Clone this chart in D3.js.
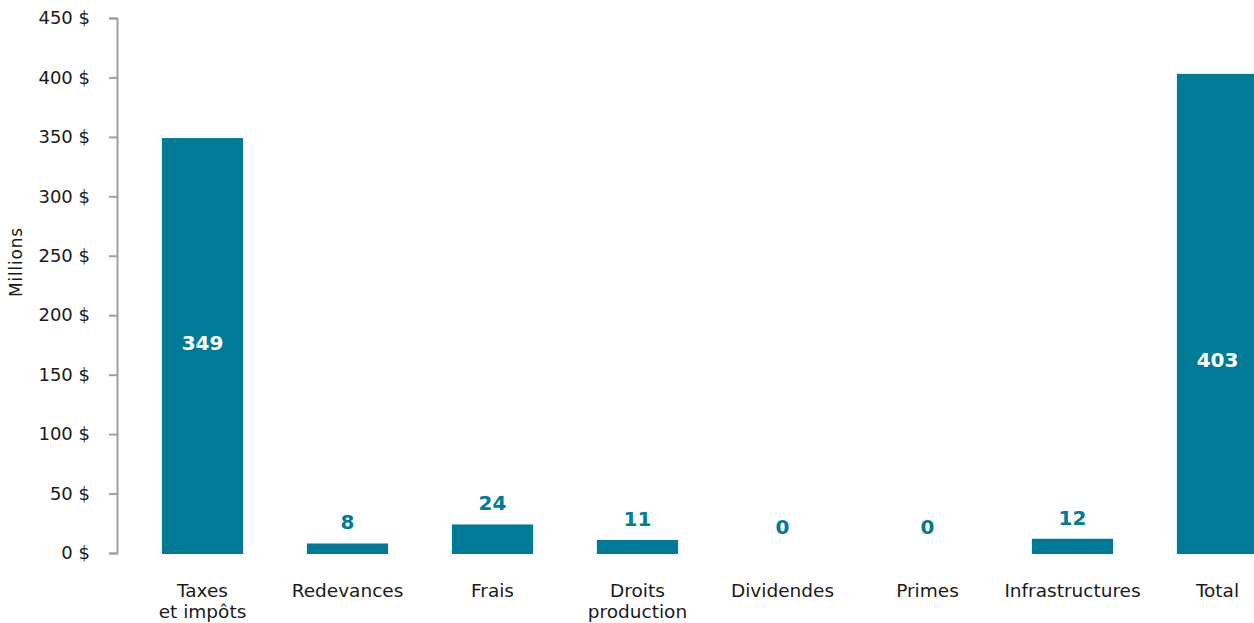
<!DOCTYPE html>
<html><head><meta charset="utf-8">
<script src="https://cdn.jsdelivr.net/npm/d3@7"></script>
<style>
body{margin:0;background:#fff;}
svg{display:block;font-family:"DejaVu Sans",sans-serif;}
</style></head>
<body><svg id="c" width="1254" height="623"></svg>
<script>
const categories = [["Taxes","et impôts"],["Redevances"],["Frais"],["Droits","production"],["Dividendes"],["Primes"],["Infrastructures"],["Total"]];
const values = [349, 8, 24, 11, 0, 0, 12, 403];
const yTicks = [0, 50, 100, 150, 200, 250, 300, 350, 400, 450];
const yTitle = "Millions";

const svg = d3.select("#c");
const teal = "#007a96";
const textCol = "#1a1a1a";
const keys = categories.map(c => c.join(" "));
const x = d3.scaleBand().domain(keys).range([130, 1290]).paddingInner(0.44).paddingOuter(0.22);
const y = d3.scaleLinear().domain([0, 450]).range([553, 18]);

const yAxis = svg.append("g").attr("transform", "translate(117,0)")
  .call(d3.axisLeft(y).tickValues(yTicks).tickSize(8).tickPadding(19).tickFormat(d => d + " $"));
yAxis.select(".domain").attr("stroke", "#a0a0a0").attr("stroke-width", 2);
yAxis.selectAll(".tick line").attr("stroke", "#a0a0a0").attr("stroke-width", 2);
yAxis.selectAll(".tick text").attr("font-size", 18).attr("fill", textCol).attr("font-family", "DejaVu Sans, sans-serif");

svg.append("text").attr("transform", "translate(22,262) rotate(-90)")
  .attr("text-anchor", "middle").attr("font-size", 17).attr("letter-spacing", 0.8).attr("fill", textCol)
  .attr("font-family", "DejaVu Sans, sans-serif").text(yTitle);

svg.append("g").selectAll("rect").data(values.map((v, i) => ({v, i})).filter(d => d.v > 0)).join("rect")
  .attr("x", d => x(keys[d.i]))
  .attr("width", x.bandwidth())
  .attr("y", d => y(d.v))
  .attr("height", d => y(0) - y(d.v) + 1)
  .attr("fill", teal);

const insideShift = {7: 50};
svg.append("g").selectAll("text").data(values).join("text")
  .attr("x", (d, i) => x(keys[i]) + x.bandwidth() / 2)
  .attr("y", (d, i) => d > 100 ? (y(d / 2) + 4 + (insideShift[i] || 0)) : (d === 0 ? y(0) - 19 : y(d) - 14))
  .attr("text-anchor", "middle")
  .attr("font-size", 20).attr("font-weight", 700)
  .attr("font-family", "DejaVu Sans, sans-serif")
  .attr("fill", d => d > 100 ? "#fff" : teal)
  .text(d => d);

const lab = svg.append("g").attr("font-family", "DejaVu Sans, sans-serif").attr("font-size", 18.5).attr("fill", textCol);
categories.forEach((c, i) => {
  const cx = x(keys[i]) + x.bandwidth() / 2;
  const t = lab.append("text").attr("text-anchor", "middle").attr("x", cx).attr("y", 597);
  c.forEach((line, j) => t.append("tspan").attr("x", cx).attr("dy", j === 0 ? 0 : 21).text(line));
});
</script></body></html>
